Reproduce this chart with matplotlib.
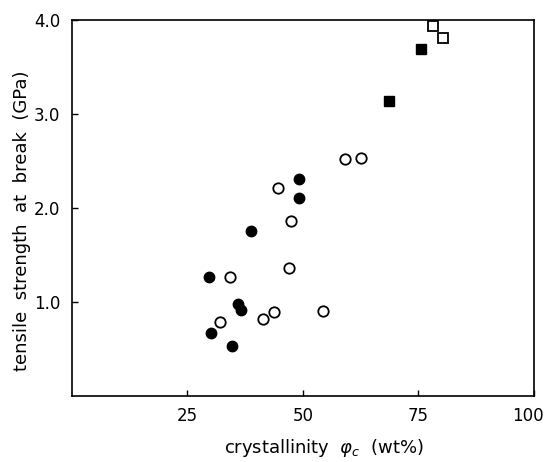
import matplotlib
matplotlib.use('Agg')
import matplotlib.pyplot as plt
import matplotlib.transforms as mtransforms

# data (crystallinity wt%, tensile strength GPa)
filled_circle_x = [29.7, 30.2, 34.7, 36.0, 36.6, 38.8, 49.2, 49.2]
filled_circle_y = [1.27, 0.67, 0.53, 0.98, 0.91, 1.75, 2.31, 2.10]

open_circle_x = [32.0, 34.2, 41.4, 43.8, 44.7, 47.0, 47.4, 54.4, 59.1, 62.6]
open_circle_y = [0.79, 1.27, 0.82, 0.89, 2.21, 1.36, 1.86, 0.90, 2.52, 2.53]

filled_square_x = [68.7, 75.5]
filled_square_y = [3.14, 3.69]

open_square_x = [78.2, 80.4]
open_square_y = [3.93, 3.81]

x_ticks = [25, 50, 75, 100]
y_ticks = [1.0, 2.0, 3.0, 4.0]

plt.rcParams['font.family'] = ['DejaVu Sans']
plt.rcParams['mathtext.fontset'] = 'dejavusans'

fig = plt.figure(figsize=(5.46, 4.62), dpi=100)
ax = fig.add_axes([0.131, 0.143, 0.847, 0.814])

ax.plot(filled_circle_x, filled_circle_y, 'o', color='black', markersize=7.5,
        linestyle='none')
ax.plot(open_circle_x, open_circle_y, 'o', markerfacecolor='white',
        markeredgecolor='black', markeredgewidth=1.3, markersize=7.5, linestyle='none')
ax.plot(filled_square_x, filled_square_y, 's', color='black', markersize=6.5,
        linestyle='none')
ax.plot(open_square_x, open_square_y, 's', markerfacecolor='white',
        markeredgecolor='black', markeredgewidth=1.3, markersize=6.5, linestyle='none')

ax.set_xlim(0, 100)
ax.set_ylim(0, 4.0)
ax.set_xticks(x_ticks)
ax.set_xticklabels([str(t) for t in x_ticks])
ax.set_yticks(y_ticks)
ax.set_yticklabels(['%.1f' % t for t in y_ticks])

ax.tick_params(direction='in', length=4, width=1, labelsize=12, pad=8)
for s in ax.spines.values():
    s.set_linewidth(1.2)

# the "100" label sits right at the figure edge, nudge it left a little
last = ax.get_xticklabels()[-1]
last.set_transform(last.get_transform() +
                   mtransforms.ScaledTranslation(-4 / 72, 0, fig.dpi_scale_trans))

ax.set_xlabel(r'crystallinity  $\varphi_c$  (wt%)', fontsize=13)
ax.set_ylabel('tensile  strength  at  break  (GPa)', fontsize=13)
ax.xaxis.set_label_coords(0.545, -0.11)
ax.yaxis.set_label_coords(-0.088, 0.465)

fig.savefig('out.png', dpi=100)
